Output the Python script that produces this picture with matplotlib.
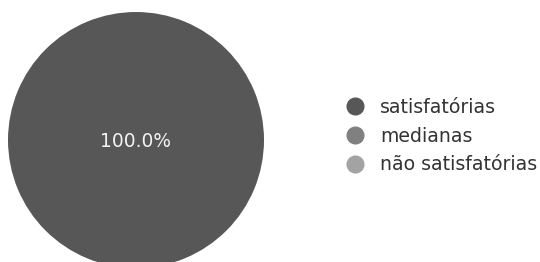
import matplotlib
matplotlib.use("Agg")
import matplotlib.pyplot as plt
from matplotlib.lines import Line2D

plt.rcParams["font.family"] = ["DejaVu Sans"]

categories = ["satisfatórias", "medianas", "não satisfatórias"]
values = [100, 0, 0]
colors = ["#575757", "#808080", "#a3a3a3"]

W, H = 540, 262
fig = plt.figure(figsize=(W / 100, H / 100), dpi=100)

# pie axes in pixel terms: center (136, 140), radius 128
cx, cy, r = 136, 140, 128
ax = fig.add_axes([(cx - r) / W, (H - cy - r) / H, 2 * r / W, 2 * r / H])


def pct(p):
    return "%.1f%%" % p if p > 0 else ""


wedges, texts, autotexts = ax.pie(values, colors=colors, autopct=pct,
                                  pctdistance=0.0, startangle=90,
                                  textprops={"color": "#f2f2f2", "fontsize": 13.4})
for t in autotexts:
    t.set_y(-0.012)
ax.set_xlim(-1, 1)
ax.set_ylim(-1, 1)
ax.set_aspect("equal")

handles = [Line2D([0], [0], marker="o", linestyle="none", markersize=12,
                  markerfacecolor=c, markeredgecolor=c) for c in colors]
fig.legend(handles, categories, loc="center left",
           bbox_to_anchor=(338 / W, 1 - 136 / H), frameon=False,
           borderaxespad=0, fontsize=13.6, handletextpad=0.82,
           labelspacing=0.52, handlelength=1.0, labelcolor="#333333")

fig.savefig("out.png", dpi=100)
